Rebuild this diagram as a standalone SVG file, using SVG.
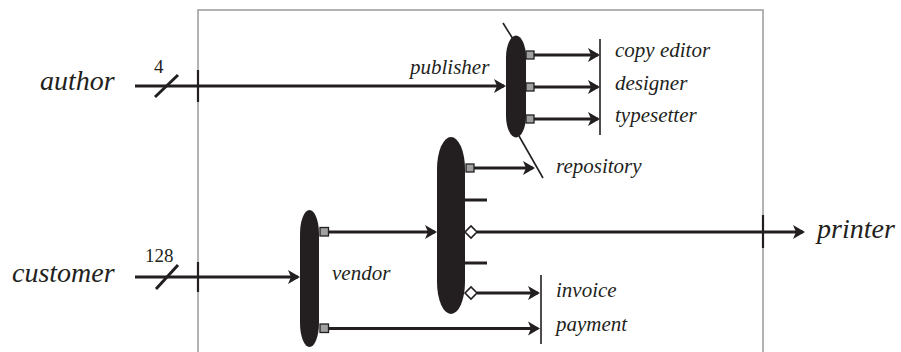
<svg xmlns="http://www.w3.org/2000/svg" width="901" height="352" viewBox="0 0 901 352">
  <style>
    .frame { fill: none; stroke: #9a9a9a; stroke-width: 1.5; }
    .wire { fill: none; stroke: #231f20; stroke-width: 3; }
    .arrow { marker-end: url(#head); }
    .bar { stroke: #231f20; stroke-width: 1.6; }
    .tick { stroke: #231f20; stroke-width: 2.2; }
    .proc { fill: #231f20; }
    .port { fill: #a0a0a0; stroke: #231f20; stroke-width: 1.3; }
    .dia { fill: #ffffff; stroke: #231f20; stroke-width: 1.6; }
    text { font-family: "Liberation Serif", "Times New Roman", serif; fill: #231f20; }
    .lbl { font-style: italic; font-size: 21px; }
    .big { font-size: 28px; }
    .num { font-size: 19px; }
  </style>
  <defs>
    <marker id="head" viewBox="-12 -8 15 16" refX="0" refY="0" markerWidth="15" markerHeight="16" markerUnits="userSpaceOnUse" orient="auto">
      <path d="M-10,-7 L2,0 L-10,7 L-7,0 Z" fill="#231f20"/>
    </marker>
  </defs>

  <!-- enclosing system boundary -->
  <rect class="frame" x="198" y="10" width="565" height="360"/>

  <!-- connectors -->
  <g id="connectors">
    <line class="wire arrow" x1="135" y1="86" x2="504" y2="86"/>
    <line class="wire" x1="155" y1="97" x2="178" y2="75" stroke-width="2"/>
    <line class="tick" x1="198" y1="70" x2="198" y2="102"/>

    <line class="wire arrow" x1="135" y1="277" x2="298" y2="277"/>
    <line class="wire" x1="156" y1="289" x2="178" y2="265" stroke-width="2"/>
    <line class="tick" x1="198" y1="262" x2="198" y2="292"/>

    <line class="wire arrow" x1="534" y1="55" x2="598" y2="55"/>
    <line class="wire arrow" x1="534" y1="87" x2="598" y2="87"/>
    <line class="wire arrow" x1="534" y1="119" x2="598" y2="119"/>
    <line class="bar" x1="600" y1="39" x2="600" y2="135"/>

    <line class="bar" x1="503" y1="23" x2="513" y2="39"/>
    <line class="bar" x1="519" y1="136" x2="543" y2="178"/>

    <line class="wire arrow" x1="474" y1="168" x2="533" y2="168"/>
    <line class="wire" x1="465" y1="200" x2="487" y2="200"/>
    <line class="wire" x1="465" y1="263" x2="487" y2="263"/>

    <line class="wire arrow" x1="477" y1="232" x2="803" y2="232"/>
    <line class="tick" x1="763" y1="215" x2="763" y2="248"/>

    <line class="wire arrow" x1="477" y1="293" x2="538" y2="293"/>
    <line class="wire arrow" x1="329" y1="328.5" x2="538" y2="328.5"/>
    <line class="bar" x1="541" y1="275" x2="541" y2="344"/>

    <line class="wire arrow" x1="329" y1="232" x2="435" y2="232"/>
  </g>

  <!-- publisher -->
  <g id="publisher">
    <rect class="proc" x="506" y="35.5" width="20" height="102" rx="10" ry="22"/>
    <rect class="port" x="526" y="51" width="8" height="8"/>
    <rect class="port" x="526" y="83" width="8" height="8"/>
    <rect class="port" x="526" y="115" width="8" height="8"/>
    <text class="lbl" x="410" y="74">publisher</text>
  </g>

  <!-- repository -->
  <g id="repository">
    <rect class="proc" x="437" y="137" width="28" height="177" rx="14" ry="32"/>
    <rect class="port" x="466" y="164" width="8" height="8"/>
    <path class="dia" d="M465,232 L471,226 L477,232 L471,238 Z"/>
    <path class="dia" d="M465,293 L471,287 L477,293 L471,299 Z"/>
    <text class="lbl" x="556" y="173">repository</text>
  </g>

  <!-- vendor -->
  <g id="vendor">
    <rect class="proc" x="300" y="210" width="19" height="137" rx="9.5" ry="24"/>
    <rect class="port" x="320" y="227.5" width="8.5" height="8.5"/>
    <rect class="port" x="320" y="324" width="8.5" height="8.5"/>
    <text class="lbl" x="332" y="280">vendor</text>
  </g>

  <!-- external entities -->
  <g id="author">
    <text class="lbl big" x="40" y="90">author</text>
    <text class="num" x="154" y="73">4</text>
  </g>
  <g id="customer">
    <text class="lbl big" x="12" y="282">customer</text>
    <text class="num" x="145" y="262">128</text>
  </g>
  <g id="printer">
    <text class="lbl big" x="817" y="238">printer</text>
  </g>

  <!-- output stores -->
  <g id="outputs">
    <text class="lbl" x="615" y="57">copy editor</text>
    <text class="lbl" x="615" y="90">designer</text>
    <text class="lbl" x="615" y="122">typesetter</text>
    <text class="lbl" x="556" y="297">invoice</text>
    <text class="lbl" x="556" y="331">payment</text>
  </g>
</svg>
